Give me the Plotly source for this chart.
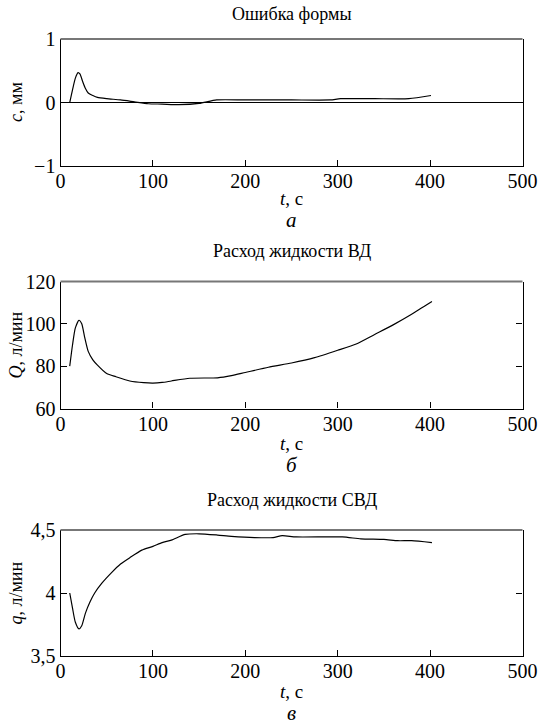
import plotly.graph_objects as go

# ---- data ----
t_c = [10, 13, 16, 19, 21, 24, 27, 30, 35, 40, 50, 65, 80, 95, 110, 128, 150, 169, 200, 250, 292, 303, 340, 377, 401]
c_mm = [0, 0.2, 0.38, 0.47, 0.45, 0.33, 0.22, 0.15, 0.11, 0.08, 0.06, 0.04, 0.01, -0.02, -0.025, -0.035, -0.015, 0.04, 0.04, 0.04, 0.04, 0.06, 0.06, 0.06, 0.11]

t_Q = [10, 13, 16, 20, 23, 26, 30, 35, 40, 50, 60, 75, 90, 100, 110, 120, 140, 170, 185, 200, 225, 250, 275, 300, 320, 340, 360, 380, 402]
Q_lmin = [80, 90, 98, 101.7, 100, 94, 87, 83, 80.5, 76.5, 75, 73, 72.2, 72, 72.3, 73, 74.3, 74.5, 75.5, 77, 79.5, 81.5, 84, 87.5, 90.5, 95, 99.5, 104.5, 110.5]

t_q = [10, 13, 16, 20, 23, 27, 32, 37, 45, 55, 65, 75, 88, 100, 110, 120, 135, 150, 170, 185, 210, 230, 240, 255, 305, 325, 350, 365, 380, 402]
q_lmin = [4.0, 3.88, 3.77, 3.715, 3.74, 3.84, 3.93, 4.0, 4.08, 4.16, 4.23, 4.28, 4.34, 4.37, 4.4, 4.42, 4.465, 4.47, 4.46, 4.45, 4.44, 4.44, 4.455, 4.445, 4.445, 4.43, 4.425, 4.415, 4.415, 4.4]

x_ticks = [0, 100, 200, 300, 400, 500]
y1_ticks = [-1, 0, 1]
y1_text = ["\u22121", "0", "1"]
y2_ticks = [60, 80, 100, 120]
y2_text = ["60", "80", "100", "120"]
y3_ticks = [3.5, 4, 4.5]
y3_text = ["3,5", "4", "4,5"]

titles = ["Ошибка формы", "Расход жидкости ВД", "Расход жидкости СВД"]
ytitles = ["<i>c</i>, мм", "<i>Q</i>, л/мин", "<i>q</i>, л/мин"]
xtitle = "<i>t</i>, с"
letters = ["а", "б", "в"]

W, H = 539, 724
FONT = "Liberation Serif"

# pixel geometry of the panels
x0, x1 = 60.5, 522.5
panels = [(39, 166), (281.5, 408.5), (530, 656)]
title_y = [14, 251, 500]
xt_y = [198, 443, 691]
let_y = [220, 465, 713]

fig = go.Figure()
series = [(t_c, c_mm), (t_Q, Q_lmin), (t_q, q_lmin)]
for i, (tx, vy) in enumerate(series):
    sfx = "" if i == 0 else str(i + 1)
    fig.add_trace(go.Scatter(x=tx, y=vy, mode="lines", xaxis="x" + sfx, yaxis="y" + sfx,
                             line=dict(color="black", width=1.2, shape="spline", smoothing=0.6),
                             showlegend=False, hoverinfo="skip"))

yranges = [[-1, 1], [60, 120], [3.5, 4.5]]
yticks = [(y1_ticks, y1_text), (y2_ticks, y2_text), (y3_ticks, y3_text)]
ann = []
shapes = []
for i in range(3):
    sfx = "" if i == 0 else str(i + 1)
    top, bot = panels[i]
    dom_y = [1 - bot / H, 1 - top / H]
    fig.layout["xaxis" + sfx] = dict(
        domain=[x0 / W, x1 / W], range=[0, 500], anchor="y" + sfx,
        tickvals=x_ticks, ticktext=[str(v) for v in x_ticks],
        ticks="inside", ticklen=6, tickcolor="black", tickwidth=1,
        showline=True, linecolor="black", linewidth=1.2, mirror=False,
        showgrid=False, zeroline=False, automargin=False, ticklabelstandoff=-3,
        tickfont=dict(family=FONT, size=20, color="black"),
    )
    fig.layout["yaxis" + sfx] = dict(
        domain=dom_y, range=yranges[i], anchor="x" + sfx,
        tickvals=yticks[i][0], ticktext=yticks[i][1],
        ticks="inside", ticklen=6, tickcolor="black", tickwidth=1,
        showline=True, linecolor="black", linewidth=1.2, mirror="ticks",
        showgrid=False, zeroline=(i == 0), zerolinecolor="black", zerolinewidth=1.2,
        automargin=False,
        tickfont=dict(family=FONT, size=20, color="black"),
    )
    # grey top frame line, as in the reference
    shapes.append(dict(type="line", xref="x" + sfx + " domain", yref="y" + sfx + " domain",
                       x0=0, x1=1, y0=1, y1=1, line=dict(color="#777777", width=2)))
    cx = (x0 + x1) / 2 / W
    ann.append(dict(text=titles[i], x=cx, y=1 - title_y[i] / H, xref="paper", yref="paper",
                    showarrow=False, font=dict(family=FONT, size=18, color="black"),
                    xanchor="center", yanchor="middle"))
    ann.append(dict(text=xtitle, x=cx, y=1 - xt_y[i] / H, xref="paper", yref="paper",
                    showarrow=False, font=dict(family=FONT, size=19, color="black"),
                    xanchor="center", yanchor="middle"))
    ann.append(dict(text="<i>" + letters[i] + "</i>", x=cx, y=1 - let_y[i] / H, xref="paper", yref="paper",
                    showarrow=False, font=dict(family=FONT, size=21, color="black"),
                    xanchor="center", yanchor="middle"))
    ann.append(dict(text=ytitles[i], x=15.5 / W, y=1 - (top + bot) / 2 / H, xref="paper", yref="paper",
                    showarrow=False, textangle=-90, font=dict(family=FONT, size=18, color="black"),
                    xanchor="center", yanchor="middle"))

fig.update_layout(width=W, height=H, margin=dict(l=0, r=0, t=0, b=0, pad=0),
                  paper_bgcolor="white", plot_bgcolor="white", annotations=ann, shapes=shapes,
                  font=dict(family=FONT, color="black"))

fig.write_html("out.html", config={"displayModeBar": False},
               post_script="document.body.style.margin='0px';")
